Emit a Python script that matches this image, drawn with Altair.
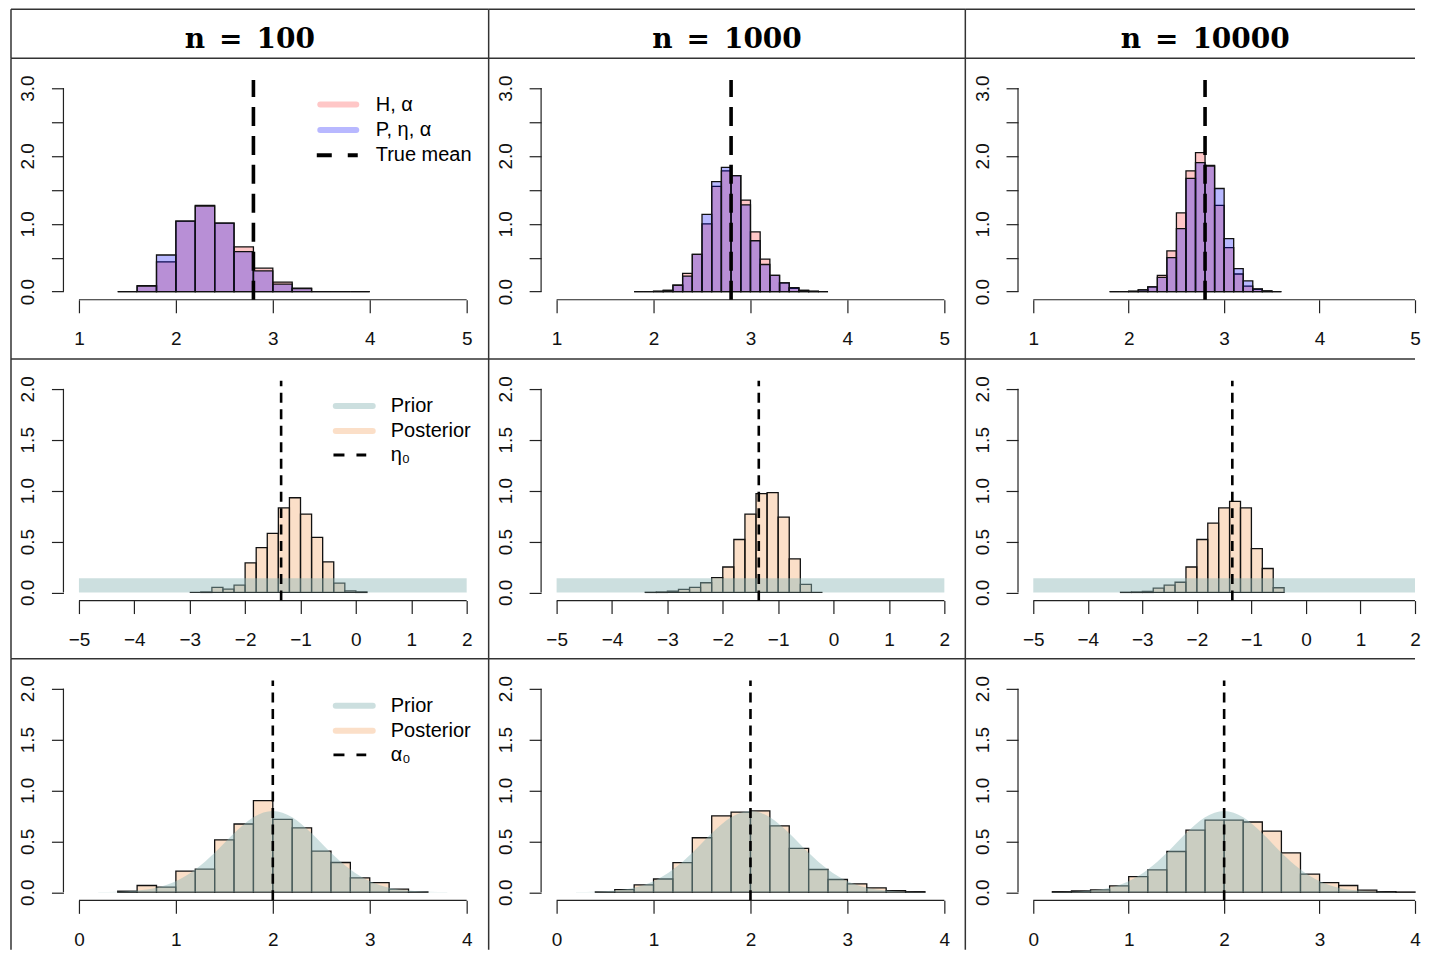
import altair as alt
import pandas as pd

# ---------------- data ----------------
headers = ["n\u2002=\u2002100", "n\u2002=\u20021000", "n\u2002=\u200210000"]

# row 1: two posterior histograms of the mean
mean_bin_start = [1.4, 1.8, 1.8]
mean_bin_width = [0.2, 0.1, 0.1]
mean_H = [
    [0.0, 0.09, 0.44, 1.04, 1.27, 1.01, 0.66, 0.345, 0.14, 0.05, 0.0, 0.0, 0.0],
    [0.0, 0.0, 0.005, 0.02, 0.094, 0.27, 0.55, 1.0, 1.55, 1.78, 1.71, 1.35, 0.88, 0.48, 0.24, 0.13, 0.05, 0.02, 0.005, 0.0],
    [0.0, 0.0, 0.005, 0.025, 0.07, 0.24, 0.60, 1.16, 1.78, 2.05, 1.86, 1.27, 0.65, 0.26, 0.08, 0.035, 0.01, 0.0],
]
mean_P = [
    [0.0, 0.08, 0.54, 1.04, 1.26, 1.01, 0.59, 0.305, 0.11, 0.045, 0.0, 0.0, 0.0],
    [0.0, 0.0, 0.005, 0.02, 0.094, 0.23, 0.55, 1.14, 1.62, 1.83, 1.71, 1.28, 0.75, 0.40, 0.24, 0.13, 0.06, 0.02, 0.005, 0.0],
    [0.0, 0.0, 0.005, 0.025, 0.07, 0.21, 0.50, 0.93, 1.67, 1.90, 1.85, 1.52, 0.78, 0.34, 0.16, 0.04, 0.01, 0.0],
]
true_mean = 2.8
mean_ticks_x = [1, 2, 3, 4, 5]
mean_ticks_y = [0.0, 0.5, 1.0, 1.5, 2.0, 2.5, 3.0]
mean_legend = ["H, \u03b1", "P, \u03b7, \u03b1", "True mean"]

# row 2: eta posterior vs uniform prior
eta_bin_start = [-3.0, -3.4, -3.4]
eta_bin_width = 0.2
eta_post = [
    [0.0, 0.005, 0.05, 0.033, 0.072, 0.29, 0.44, 0.58, 0.83, 0.93, 0.77, 0.54, 0.30, 0.092, 0.016, 0.006],
    [0.002, 0.005, 0.013, 0.03, 0.05, 0.095, 0.145, 0.25, 0.52, 0.77, 0.97, 0.98, 0.74, 0.33, 0.08, 0.0],
    [0.002, 0.005, 0.01, 0.043, 0.072, 0.10, 0.25, 0.52, 0.68, 0.83, 0.895, 0.83, 0.43, 0.235, 0.046],
]
eta_prior_lo, eta_prior_hi, eta_prior_d = -5.0, 2.0, 0.14
eta0 = -1.35
eta_ticks_x = [-5, -4, -3, -2, -1, 0, 1, 2]
eta_ticks_y = [0.0, 0.5, 1.0, 1.5, 2.0]
eta_legend = ["Prior", "Posterior", "\u03b7\u2080"]

# row 3: alpha posterior vs bell-shaped prior
alpha_bin_start = [0.4, 0.4, 0.2]
alpha_bin_width = 0.2
alpha_post = [
    [0.01, 0.066, 0.05, 0.207, 0.226, 0.515, 0.67, 0.90, 0.715, 0.633, 0.403, 0.292, 0.141, 0.095, 0.03, 0.003],
    [0.003, 0.026, 0.072, 0.13, 0.29, 0.535, 0.75, 0.787, 0.80, 0.652, 0.43, 0.223, 0.125, 0.082, 0.043, 0.016, 0.005],
    [0.005, 0.013, 0.023, 0.062, 0.154, 0.22, 0.40, 0.61, 0.708, 0.708, 0.69, 0.60, 0.387, 0.177, 0.095, 0.066, 0.02, 0.005, 0.002],
]
alpha_prior_x = [0.2, 0.4, 0.6, 0.8, 1.0, 1.2, 1.4, 1.6, 1.8, 2.0, 2.2, 2.4, 2.6, 2.8, 3.0, 3.2, 3.4, 3.6, 3.8]
alpha_prior_y = [0.002, 0.005, 0.016, 0.044, 0.108, 0.222, 0.388, 0.579, 0.737, 0.798,
                 0.737, 0.579, 0.388, 0.222, 0.108, 0.044, 0.016, 0.005, 0.002]
alpha0 = 2.0
alpha_ticks_x = [0, 1, 2, 3, 4]
alpha_ticks_y = [0.0, 0.5, 1.0, 1.5, 2.0]
alpha_legend = ["Prior", "Posterior", "\u03b1\u2080"]

# ---------------- styling / layout ----------------
FONT = "Liberation Sans"
COL_W = [478, 477, 450]
COL_XR = [456, 456, 450]           # pixel of last x tick inside a cell, per column
ROW_H = [301, 300, 291]
HEAD_H = 49
X_LEFT = 68                        # pixel of first x tick inside a cell
Y_ZERO, Y_TOP = 233.5, 29.8        # pixel of y=0 / y=max inside a cell
AX_Y = Y_ZERO + 0.04 * (Y_ZERO - Y_TOP)

RED, BLUE = "#FF0000", "#0000FF"
RED_OP, BLUE_OP = 0.22, 0.28
POST, PRIOR = "#F4A460", "#8DB8B8"
EDGE = "#111111"
AXC = "#222222"
BORDER = "#333333"


def hist_df(start, width, vals):
    lo = [round(start + i * width, 3) for i in range(len(vals))]
    return pd.DataFrame({"lo": lo, "hi": [round(v + width, 3) for v in lo],
                         "d": vals, "z": [0.0] * len(vals)})


def x_axis(xt, H):
    return alt.Axis(values=xt, format="d", domain=False, grid=False, title=None,
                    tickSize=13, tickColor=AXC, tickWidth=1.2,
                    labelFont=FONT, labelFontSize=19, labelColor="#111",
                    labelPadding=17, labelOverlap=False, labelFlush=False,
                    offset=-(H - AX_Y))


def y_axis(yt, int_only, ax_x):
    kw = dict(values=yt, domain=False, grid=False, title=None,
              tickSize=12, tickColor=AXC, tickWidth=1.2,
              labelFont=FONT, labelFontSize=19, labelColor="#111",
              labelPadding=14, labelAngle=270, labelAlign="center",
              labelBaseline="bottom", labelOverlap=False, labelFlush=False,
              offset=-ax_x)
    if int_only:
        kw["labelExpr"] = "datum.value % 1 == 0 ? format(datum.value, '.1f') : ''"
    else:
        kw["format"] = ".1f"
    return alt.Axis(**kw)


def borders(W, H):
    one = pd.DataFrame({"k": [0]})
    top = alt.Chart(one).mark_rule(color=BORDER, strokeWidth=1.5).encode(
        x=alt.value(0), x2=alt.value(W), y=alt.value(0))
    left = alt.Chart(one).mark_rule(color=BORDER, strokeWidth=1.5).encode(
        x=alt.value(0), y=alt.value(0), y2=alt.value(H))
    return [top, left]


def legend_rule(label, x0, x1, y, color, opacity, width, dash=None, cap="round"):
    kw = dict(color=color, strokeOpacity=opacity, strokeWidth=width, strokeCap=cap)
    if dash:
        kw["strokeDash"] = dash
    return alt.Chart(pd.DataFrame({"label": [label]})).mark_rule(**kw).encode(
        x=alt.value(x0), x2=alt.value(x1), y=alt.value(y))


def legend_text(label, x, y):
    return alt.Chart(pd.DataFrame({"label": [label]})).mark_text(
        align="left", baseline="middle", font=FONT, fontSize=20, color="black").encode(
        text="label:N", x=alt.value(x), y=alt.value(y))


def cell(r, c):
    W, H, XR = COL_W[c], ROW_H[r], COL_XR[c]
    if r == 0:
        xt, yt, vline = mean_ticks_x, mean_ticks_y, true_mean
    elif r == 1:
        xt, yt, vline = eta_ticks_x, eta_ticks_y, eta0
    else:
        xt, yt, vline = alpha_ticks_x, alpha_ticks_y, alpha0
    ymax = yt[-1]
    kx = (XR - X_LEFT) / (xt[-1] - xt[0])
    ky = (Y_ZERO - Y_TOP) / ymax
    ax_x = X_LEFT - 0.04 * (XR - X_LEFT)
    sx = alt.Scale(domain=[xt[0] - X_LEFT / kx, xt[0] + (W - X_LEFT) / kx], nice=False, zero=False)
    sy = alt.Scale(domain=[-(H - Y_ZERO) / ky, ymax + Y_TOP / ky], nice=False, zero=False)
    xax, yax = x_axis(xt, H), y_axis(yt, r == 0, ax_x)

    def X(f):
        return alt.X(f, scale=sx, axis=xax)

    def Y(f):
        return alt.Y(f, scale=sy, axis=yax)

    def hist(df, fill, fop):
        return alt.Chart(df).mark_rect(fill=fill, fillOpacity=fop, stroke=EDGE, strokeWidth=1.3).encode(
            x=X("lo:Q"), x2="hi:Q", y=Y("d:Q"), y2="z:Q")

    layers = []
    if r == 0:
        layers.append(hist(hist_df(mean_bin_start[c], mean_bin_width[c], mean_H[c]), RED, RED_OP))
        layers.append(hist(hist_df(mean_bin_start[c], mean_bin_width[c], mean_P[c]), BLUE, BLUE_OP))
    elif r == 1:
        layers.append(hist(hist_df(eta_bin_start[c], eta_bin_width, eta_post[c]), POST, 0.35))
        band = pd.DataFrame({"lo": [eta_prior_lo], "hi": [eta_prior_hi],
                             "d": [eta_prior_d], "z": [0.0]})
        layers.append(alt.Chart(band).mark_rect(fill=PRIOR, fillOpacity=0.45).encode(
            x=X("lo:Q"), x2="hi:Q", y=Y("d:Q"), y2="z:Q"))
    else:
        layers.append(hist(hist_df(alpha_bin_start[c], alpha_bin_width, alpha_post[c]), POST, 0.35))
        pri = pd.DataFrame({"lo": alpha_prior_x, "d": alpha_prior_y, "z": [0.0] * len(alpha_prior_x)})
        layers.append(alt.Chart(pri).mark_area(fill=PRIOR, fillOpacity=0.45, interpolate="monotone").encode(
            x=X("lo:Q"), y=Y("d:Q"), y2="z:Q"))

    # axis lines (R style: only over the tick range)
    xl = pd.DataFrame({"lo": [xt[0]], "hi": [xt[-1]], "d": [-0.04 * ymax]})
    layers.append(alt.Chart(xl).mark_rule(color=AXC, strokeWidth=1.2).encode(
        x=X("lo:Q"), x2="hi:Q", y=Y("d:Q")))
    yl = pd.DataFrame({"lo": [xt[0] - 0.04 * (xt[-1] - xt[0])], "d": [0.0], "z": [ymax]})
    layers.append(alt.Chart(yl).mark_rule(color=AXC, strokeWidth=1.2).encode(
        x=X("lo:Q"), y=Y("d:Q"), y2="z:Q"))

    # dashed reference line
    vl = pd.DataFrame({"lo": [vline], "d": [-0.04 * ymax], "z": [1.04 * ymax]})
    if r == 0:
        vkw = dict(strokeWidth=3.6, strokeDash=[19, 10])
    else:
        vkw = dict(strokeWidth=2.6, strokeDash=[10, 6.5])
    layers.append(alt.Chart(vl).mark_rule(color="black", **vkw).encode(
        x=X("lo:Q"), y=Y("d:Q"), y2="z:Q"))

    # legends (first column only)
    if c == 0:
        if r == 0:
            ys = [46.3, 71.8, 97.0]
            layers.append(legend_rule(mean_legend[0], 309.5, 345.5, ys[0], RED, RED_OP, 6))
            layers.append(legend_rule(mean_legend[1], 309.5, 345.5, ys[1], BLUE, BLUE_OP, 6))
            layers.append(legend_rule(mean_legend[2], 306, 347, ys[2], "black", 1.0, 4,
                                      dash=[15, 16], cap="butt"))
            for lab, y in zip(mean_legend, ys):
                layers.append(legend_text(lab, 365, y))
        else:
            labels = eta_legend if r == 1 else alpha_legend
            ys = [47.0, 72.0, 96.0]
            layers.append(legend_rule(labels[0], 325, 362, ys[0], PRIOR, 0.45, 6))
            layers.append(legend_rule(labels[1], 325, 362, ys[1], POST, 0.35, 6))
            layers.append(legend_rule(labels[2], 322.7, 355.5, ys[2], "black", 1.0, 2.8,
                                      dash=[11, 12], cap="butt"))
            for lab, y in zip(labels, ys):
                layers.append(legend_text(lab, 380, y))

    layers += borders(W, H)
    return alt.layer(*layers).properties(width=W, height=H)


def header(c):
    txt = alt.Chart(pd.DataFrame({"t": [headers[c]]})).mark_text(
        font="DejaVu Serif", fontWeight="bold", fontSize=28, align="center",
        baseline="alphabetic", color="black").encode(
        text="t:N", x=alt.value(COL_W[c] / 2 if c < 2 else 240), y=alt.value(39))
    return alt.layer(txt, *borders(COL_W[c], HEAD_H)).properties(width=COL_W[c], height=HEAD_H)


panels = [header(c) for c in range(3)] + [cell(r, c) for r in range(3) for c in range(3)]

chart = alt.concat(*panels, columns=3, spacing=0, bounds="flush", align="each").properties(
    padding={"left": 2, "top": 0, "right": 0, "bottom": 0}
).configure_view(strokeWidth=0)

chart.save("out.html", embed_options={"renderer": "svg", "actions": False})
